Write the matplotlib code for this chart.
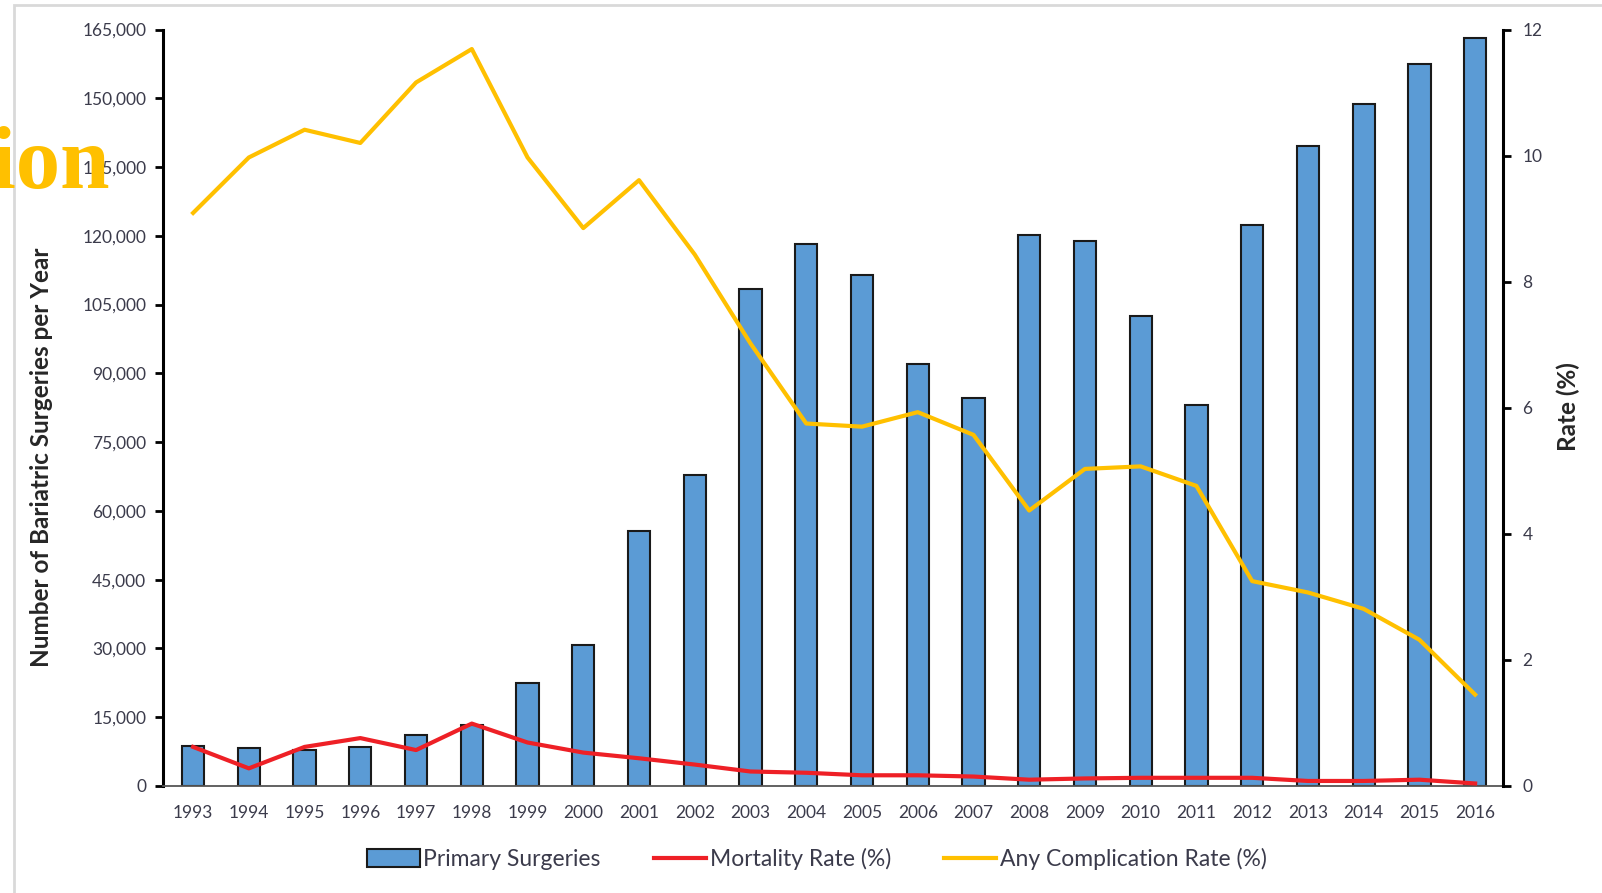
import matplotlib
matplotlib.use('Agg')
import matplotlib.pyplot as plt
from matplotlib.patches import Rectangle
import numpy as np

plt.rcParams['font.family'] = ['Lato', 'DejaVu Sans']

# yearly series
years = ['1993', '1994', '1995', '1996', '1997', '1998', '1999', '2000',
         '2001', '2002', '2003', '2004', '2005', '2006', '2007', '2008',
         '2009', '2010', '2011', '2012', '2013', '2014', '2015', '2016']
surgeries = [8700, 8300, 7800, 8500, 11200, 13400, 22500, 30800,
             55600, 67900, 108300, 118300, 111400, 92000, 84600, 120100,
             118800, 102500, 83100, 122400, 139500, 148700, 157400, 163200]
mortality = [0.62, 0.28, 0.62, 0.76, 0.57, 0.99, 0.69, 0.53,
             0.44, 0.34, 0.23, 0.21, 0.17, 0.17, 0.15, 0.10,
             0.12, 0.13, 0.13, 0.13, 0.08, 0.08, 0.10, 0.04]
complication = [9.09, 9.97, 10.41, 10.20, 11.16, 11.69, 9.97, 8.85,
                9.61, 8.43, 7.02, 5.75, 5.70, 5.93, 5.57, 4.37,
                5.03, 5.07, 4.76, 3.25, 3.07, 2.81, 2.32, 1.45]

W, H = 1602, 893
fig = plt.figure(figsize=(W / 100, H / 100), dpi=100)

# slide frame and leftover title fragment
fig.patches.append(Rectangle((14 / W, -0.1), 1.2, 1 - 5 / H + 0.1,
                             transform=fig.transFigure, fill=False,
                             edgecolor='#d9d9d9', linewidth=2))
fig.text(110 / W, 1 - 188 / H, 'ion', ha='right', va='baseline',
         family='Liberation Serif', fontweight='bold', fontsize=64,
         color='#FFC000', zorder=10)

ax = fig.add_axes([163 / W, 107 / H, (1503 - 163) / W, (786 - 29.5) / H])
x = np.arange(len(years))
txt = '#3b3b4b'

bars = ax.bar(x, surgeries, width=0.4, color='#5B9BD5', edgecolor='#1a1a1a',
              linewidth=1.5, label='Primary Surgeries', zorder=2)
ax.set_xlim(-0.54, 23.5)
ax.set_ylim(0, 165000)
ax.set_yticks(np.arange(0, 165001, 15000))
ax.set_yticklabels([f'{v:,}' for v in range(0, 165001, 15000)])
ax.set_xticks(x)
ax.set_xticklabels(years)
ax.tick_params(axis='x', length=0, pad=14, labelsize=12.5, labelcolor=txt)
ax.tick_params(axis='y', length=6, width=2, pad=6, labelsize=12.5, labelcolor=txt)
ax.spines['top'].set_visible(False)
ax.spines['right'].set_visible(False)
ax.spines['left'].set_linewidth(2.2)
ax.spines['bottom'].set_color('#555555')
ax.spines['bottom'].set_linewidth(1.3)

ax2 = ax.twinx()
m_line, = ax2.plot(x, mortality, color='#EE2026', linewidth=3,
                   label='Mortality Rate (%)', zorder=3)
c_line, = ax2.plot(x, complication, color='#FFC000', linewidth=3,
                   label='Any Complication Rate (%)', zorder=3)
ax2.set_ylim(0, 12)
ax2.set_yticks(range(0, 13, 2))
ax2.tick_params(axis='y', length=6, width=2, pad=8, labelsize=12.5, labelcolor=txt)
ax2.spines['top'].set_visible(False)
ax2.spines['left'].set_visible(False)
ax2.spines['bottom'].set_visible(False)
ax2.spines['right'].set_linewidth(2.2)

fig.text(42 / W, 1 - 457 / H, 'Number of Bariatric Surgeries per Year',
         rotation=90, ha='center', va='center', fontsize=17.5,
         fontweight='bold', color='#262626')
fig.text(1568 / W, 1 - 407 / H, 'Rate (%)', rotation=90, ha='center',
         va='center', fontsize=17.5, fontweight='bold', color='#262626')

leg = fig.legend([bars, m_line, c_line],
                 ['Primary Surgeries', 'Mortality Rate (%)', 'Any Complication Rate (%)'],
                 loc='center', bbox_to_anchor=(817 / W, 1 - 859 / H), ncol=3,
                 frameon=False, fontsize=16.5, handlelength=2.3, handletextpad=0.15,
                 columnspacing=2.3, handleheight=0.8)
for t in leg.get_texts():
    t.set_color(txt)

fig.savefig('out.png', dpi=100)
